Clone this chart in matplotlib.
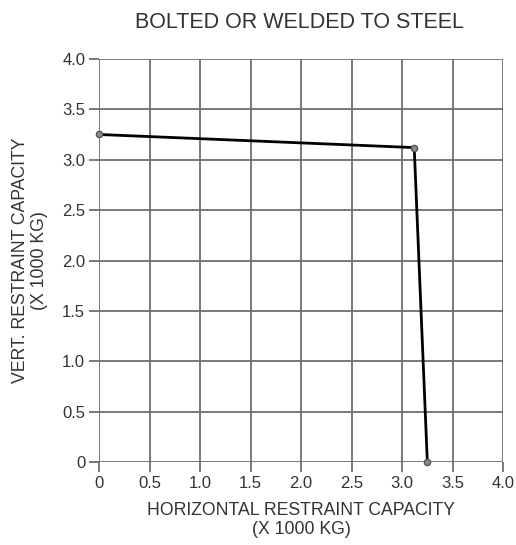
import matplotlib
matplotlib.use("Agg")
import matplotlib.pyplot as plt
import numpy as np

x_vals = [0.0, 3.12, 3.25]
y_vals = [3.25, 3.12, 0.0]
ticks = [0, 0.5, 1.0, 1.5, 2.0, 2.5, 3.0, 3.5, 4.0]
tick_labels = ["0", "0.5", "1.0", "1.5", "2.0", "2.5", "3.0", "3.5", "4.0"]

plt.rcParams['font.family'] = ['Liberation Sans', 'DejaVu Sans']
fig = plt.figure(figsize=(5.16, 5.45), dpi=100)
ax = fig.add_axes([0.192, 0.152, 0.783, 0.740])
gc = '#6e6e6e'
for s in ax.spines.values():
    s.set_visible(False)
ax.set_xlim(0, 4)
ax.set_ylim(0, 4)
ax.set_xticks(ticks)
ax.set_yticks(ticks)
ax.set_xticklabels(tick_labels)
ax.set_yticklabels(tick_labels)
ax.grid(True, color=gc, linewidth=1.3)
ax.tick_params(axis='both', length=7, width=1.3, color=gc, labelsize=12, labelcolor='#333333', pad=3)
ax.plot(x_vals, y_vals, color='black', linewidth=2, marker='o', markersize=4.5,
        markerfacecolor='#8a8a8a', markeredgecolor='#555555', clip_on=False, zorder=5)
ax.set_xlabel("HORIZONTAL RESTRAINT CAPACITY\n(X 1000 KG)", fontsize=12.7, color='#333333', labelpad=8, linespacing=1.15)
ax.set_ylabel("VERT. RESTRAINT CAPACITY\n(X 1000 KG)", fontsize=12.7, color='#333333', labelpad=10, linespacing=1.15)
fig.suptitle("BOLTED OR WELDED TO STEEL", fontsize=15.5, color='#333333', x=0.58, y=0.978)
fig.savefig("out.png", dpi=100)
